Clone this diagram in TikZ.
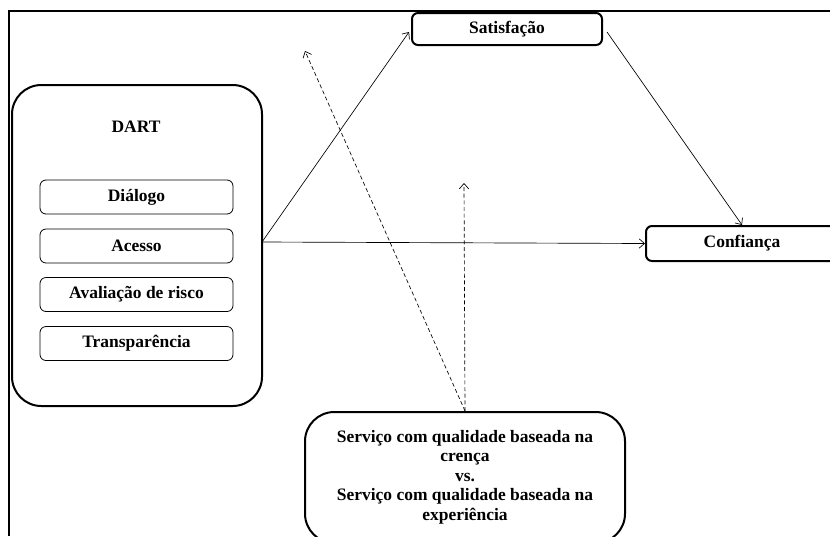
\documentclass[tikz,border=0pt]{standalone}
\usepackage{fontspec}
\setmainfont{Liberation Serif}
\usetikzlibrary{arrows.meta,calc}
\begin{document}
\begin{tikzpicture}[x=0.75pt,y=-0.75pt,
  every node/.style={font=\fontsize{13.1}{14.6}\selectfont\bfseries, align=center, inner sep=0pt},
  bigbox/.style={draw, line width=1.5pt, rounded corners=22pt},
  thickbox/.style={draw, line width=1.5pt, rounded corners=4.5pt},
  itembox/.style={draw, line width=0.6pt, rounded corners=4.5pt, minimum width=144.75pt, minimum height=25.5pt},
  conn/.style={line width=0.5pt, -{Straight Barb[length=4pt,width=7pt]}},
  dconn/.style={conn, dash pattern=on 3pt off 2pt}]
\clip (0,0) rectangle (830,536);
\useasboundingbox (0,0) rectangle (830,536);
% frame
\draw[line width=1.5pt] (9,536) -- (9,11) -- (830,11);
% DART
\node[bigbox, minimum width=187.5pt, minimum height=240.75pt] (dart) at (137,245.5) {};
\node (dartt) at (136,127) {DART};
\node[itembox] (dia) at (136.5,197) {Diálogo};
\node[itembox] (ace) at (136.5,246) {Acesso};
\node[itembox] (ava) at (136.5,294.5) {Avaliação de risco};
\node[itembox] (tra) at (136.5,343.5) {Transparência};
% outcomes
\node[thickbox, minimum width=142.5pt, minimum height=24pt] (sat) at (507,29) {Satisfação};
\node[thickbox, minimum width=144pt, minimum height=26.25pt] (conf) at (742,243.5) {Confiança};
% moderator
\node[bigbox, minimum width=240pt, minimum height=98.25pt] (bot) at (465,477.5) {};
\node (bott) at (465,477) {Serviço com qualidade baseada na\\crença\\vs.\\Serviço com qualidade baseada na\\experiência};
% connectors
\coordinate (ds) at (262,242);
\coordinate (dtip1) at (305,51);
\coordinate (dtip2) at (464,183);
\draw[conn] (ds) -- ($(sat.west)+(-2,3)$);
\draw[conn] (ds) -- (conf.west);
\draw[conn] ($(sat.east)+(4,3)$) -- (conf.north);
\draw[dconn] (bot.north) -- (dtip1);
\draw[dconn] (bot.north) -- (dtip2);
\end{tikzpicture}
\end{document}
